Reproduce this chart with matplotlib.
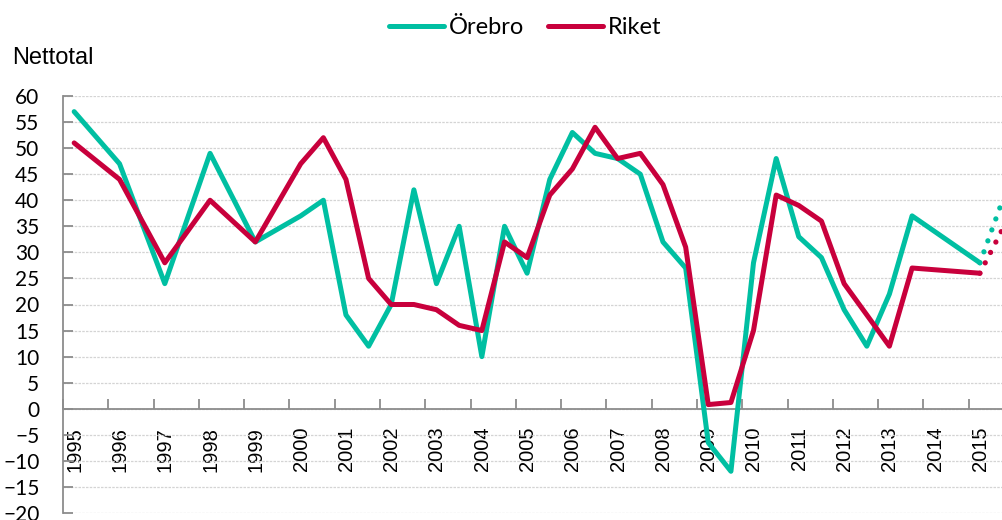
import numpy as np
import pandas as pd
import matplotlib
matplotlib.use("Agg")
import matplotlib.pyplot as plt
import matplotlib.dates as mdates

# survey periods: yearly until 1999, then spring (04) and autumn (10)
perioder = ["1995-04", "1996-04", "1997-04", "1998-04", "1999-04",
            "2000-04", "2000-10", "2001-04", "2001-10", "2002-04", "2002-10",
            "2003-04", "2003-10", "2004-04", "2004-10", "2005-04", "2005-10",
            "2006-04", "2006-10", "2007-04", "2007-10", "2008-04", "2008-10",
            "2009-04", "2009-10", "2010-04", "2010-10", "2011-04", "2011-10",
            "2012-04", "2012-10", "2013-04", "2013-10", "2015-04"]

orebro = [57, 47, 24, 49, 32,
          37, 40, 18, 12, 20, 42,
          24, 35, 10, 35, 26, 44,
          53, 49, 48, 45, 32, 27,
          -6.5, -12, 28, 48, 33, 29,
          19, 12, 22, 37, 28]

riket = [51, 44, 28, 40, 32,
         47, 52, 44, 25, 20, 20,
         19, 16, 15, 32, 29, 41,
         46, 54, 48, 49, 43, 31,
         0.8, 1.2, 15, 41, 39, 36,
         24, 18, 12, 27, 26]

# forecast (dotted)
prognos_perioder = ["2015-04", "2015-10"]
orebro_prognos = [28, 40]
riket_prognos = [26, 34.5]

teal = "#00BFA2"
red = "#C8003C"

x = pd.to_datetime(perioder)
xp = pd.to_datetime(prognos_perioder)

fig = plt.figure(figsize=(10.02, 5.2), dpi=100)
# axis runs 1995-2016, right end cut by the image edge
ax = fig.add_axes([63/1002, 7/520, 951/1002, 417/520])

ax.plot(x, orebro, color=teal, lw=3.6, solid_joinstyle="round", solid_capstyle="round", label="Örebro", zorder=3)
ax.plot(x, riket, color=red, lw=3.6, solid_joinstyle="round", solid_capstyle="round", label="Riket", zorder=4)
ax.plot(xp, orebro_prognos, color=teal, lw=3.8, linestyle=(0, (0.01, 2.2)), dash_capstyle="round", zorder=3)
ax.plot(xp, riket_prognos, color=red, lw=3.8, linestyle=(0, (0.01, 2.2)), dash_capstyle="round", zorder=4)

ax.set_xlim(pd.Timestamp("1995-01-01"), pd.Timestamp("2016-01-01"))
ax.set_ylim(-20, 60)
ax.set_yticks(np.arange(-20, 61, 5))

ax.spines["bottom"].set_position(("data", 0))
ax.spines["top"].set_visible(False)
ax.spines["right"].set_visible(False)
for s in ("bottom", "left"):
    ax.spines[s].set_color("#8c8c8c")
    ax.spines[s].set_linewidth(1.3)

ax.xaxis.set_major_locator(mdates.YearLocator())
ax.xaxis.set_major_formatter(plt.NullFormatter())
ax.xaxis.set_minor_locator(mdates.MonthLocator(bymonth=4, bymonthday=5))
ax.xaxis.set_minor_formatter(mdates.DateFormatter("%Y"))
ax.tick_params(axis="x", which="major", direction="in", length=7, width=1.3, color="#8c8c8c")
ax.tick_params(axis="x", which="minor", length=0, pad=13, labelsize=14.5, labelrotation=90)
for lab in ax.get_xticklabels(minor=True):
    lab.set_fontfamily("Liberation Sans")
    lab.set_va("top")

ax.tick_params(axis="y", direction="in", length=7, width=1.3, color="#8c8c8c", pad=17, labelsize=15)
for lab in ax.get_yticklabels():
    lab.set_fontfamily("Lato")

ax.grid(axis="y", color="#d4d4d4", lw=0.9, linestyle=(0, (2, 1)))
ax.set_axisbelow(True)

fig.text(12/1002, 1 - 58/520, "Nettotal", fontsize=17, family="Liberation Sans", va="center", ha="left")

leg = fig.legend(loc="center", bbox_to_anchor=(525/1002, 1 - 28/520), ncol=2, frameon=False,
                 prop={"family": "Lato", "size": 17}, handlelength=2.35, handletextpad=0.2, columnspacing=1.0)
for h in leg.legend_handles:
    h.set_solid_capstyle("round")

fig.savefig("out.png", dpi=100)
